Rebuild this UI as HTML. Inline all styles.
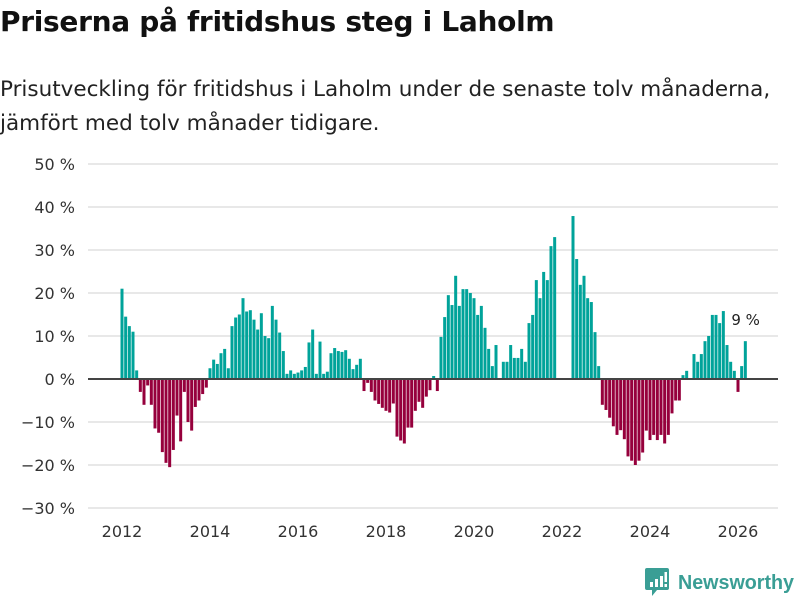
<!DOCTYPE html>
<html><head><meta charset="utf-8"><style>
body{margin:0;width:800px;height:600px;background:#fff;font-family:"Liberation Sans","DejaVu Sans",sans-serif;overflow:hidden;position:relative}
#title{position:absolute;left:0;top:5px;font-family:"DejaVu Sans",sans-serif;font-size:28px;font-weight:bold;color:#111;letter-spacing:-0.3px;white-space:nowrap}
#sub{position:absolute;left:0;top:73px;font-family:"DejaVu Sans",sans-serif;font-size:21.5px;line-height:34px;color:#222;white-space:nowrap}
svg{position:absolute;left:0;top:0}
</style></head><body>
<div id="title">Priserna på fritidshus steg i Laholm</div>
<div id="sub">Prisutveckling för fritidshus i Laholm under de senaste tolv månaderna,<br>jämfört med tolv månader tidigare.</div>
<svg id="chart" width="800" height="600"></svg>
<script>
const values=[21,14.5,12.3,11,2,-3,-6,-1.5,-6,-11.5,-12.5,-17,-19.5,-20.5,-16.5,-8.5,-14.5,-3,-10,-12,-6.5,-5,-3.5,-2,
2.5,4.5,3.5,6,7,2.5,12.3,14.3,15,18.8,15.7,16,13.8,11.5,15.3,10,9.5,17,13.8,10.8,6.5,1.2,2,1.2,1.5,2,2.8,8.5,11.5,1.2,8.7,1.2,1.7,6,7.2,6.5,
6.3,6.7,4.7,2.3,3.3,4.7,-2.8,-0.9,-3,-5,-5.8,-6.7,-7.4,-7.8,-5.7,-13.4,-14.3,-15,-11.3,-11.3,-7.4,-5.3,-6.7,-4.1,-2.6,0.7,-2.8,
9.8,14.4,19.5,17.2,24,17,20.9,20.9,20,18.8,14.9,17,11.9,7,3,7.9,null,4,4,7.9,4.9,4.9,7,4,13,14.9,23,18.8,24.9,23,30.9,33,
null,null,null,null,37.9,27.9,21.9,24,18.8,17.9,10.9,3,-6,-7.2,-9,-11,-13,-11.9,-14,-18,-19,-20,-19,-17.1,-12,-14.2,-13,-14.2,-13,-15,-13,-8,-5,-5,
0.9,1.9,null,5.8,4,5.8,8.8,10,14.9,14.9,13,15.8,7.9,4,1.9,-3,3,8.8];
const yTicks=[50,40,30,20,10,0,-10,-20,-30];
const xTicks=[2012,2014,2016,2018,2020,2022,2024,2026];
const lastLabel="9 %";
const svg=document.getElementById('chart');const NS='http://www.w3.org/2000/svg';
function y(v){return 379-v*4.3;}
function x(i){return 122+i*(616/168);}
function xy(yr){return x((yr-2012)*12);}
function mk(t,a,p){const e=document.createElementNS(NS,t);for(const k in a)e.setAttribute(k,a[k]);(p||svg).appendChild(e);return e;}
yTicks.forEach(t=>{
 const g=mk('line',{x1:88,x2:778,y1:y(t),y2:y(t),stroke:'#e0e0e0','stroke-width':1.5});
 
 
 const l=mk('text',{x:75,y:y(t)+6,'text-anchor':'end','font-size':16,fill:'#333','font-family':'DejaVu Sans, sans-serif'});
 l.textContent=(t<0?'\u2212'+(-t):t)+' %';
 
 
});
values.forEach((v,i)=>{
 if(v===null)return;
 const b=mk('rect',{x:x(i)-1.5,width:3,y:v>=0?y(v):y(0),height:Math.abs(y(v)-y(0)),fill:v>=0?'#00a39a':'#96003c'});
 
 
});
const z=mk('line',{x1:88,x2:778,y1:y(0),y2:y(0),stroke:'#444','stroke-width':2});


xTicks.forEach(t=>{
 const l=mk('text',{x:xy(t),y:537,'text-anchor':'middle','font-size':16,fill:'#333','font-family':'DejaVu Sans, sans-serif'});
 l.textContent=t;
 
 
});
const li=values.length-1;
const ll=mk('text',{x:x(li)-14,y:y(values[li])-16,'font-size':15,fill:'#222','font-family':'DejaVu Sans, sans-serif'});
ll.textContent=lastLabel;


</script>
<svg width="155" height="40" style="left:645px;top:563px">
<path d="M2 5 h20 a2 2 0 0 1 2 2 v18 a2 2 0 0 1 -2 2 h-10 l-5 6 v-6 h-5 a2 2 0 0 1 -2 -2 v-18 a2 2 0 0 1 2 -2z" fill="#3a9e95"/>
<rect x="5" y="19" width="3" height="5" fill="#fff"/><rect x="10" y="16" width="3" height="8" fill="#fff"/><rect x="15" y="13" width="3" height="11" fill="#fff"/><rect x="19.5" y="9" width="2.5" height="10" fill="#fff"/><rect x="19.5" y="21" width="2.5" height="3" fill="#fff"/>
<text x="33" y="26" font-size="20" font-weight="bold" fill="#3a9e95" font-family="Liberation Sans, sans-serif" textLength="116" lengthAdjust="spacingAndGlyphs">Newsworthy</text>
</svg>
</body></html>
